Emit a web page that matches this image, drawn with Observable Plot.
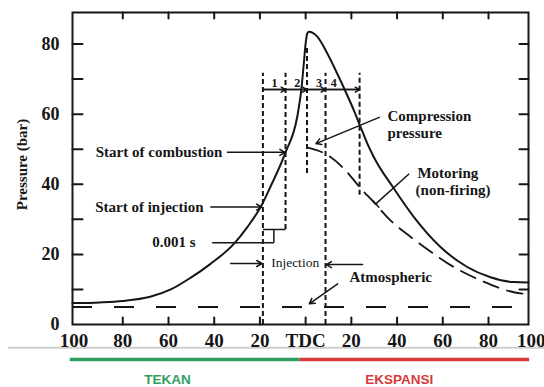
<!DOCTYPE html>
<html><head><meta charset="utf-8">
<script src="https://cdn.jsdelivr.net/npm/d3@7"></script>
<script src="https://cdn.jsdelivr.net/npm/@observablehq/plot@0.6"></script>
<style>body{margin:0;background:#fff}#chart svg{display:block}</style>
</head><body><div id="chart"></div>
<script>
// Firing (solid) cylinder pressure vs crank angle (deg, negative = before TDC)
const firingAngle    = [-102, -90, -80, -68, -59, -50.4, -41.6, -31.4, -25.5, -19.7, -15.4, -8.8, -3.7, -1.9, -0.8, 0, 0.7, 1.4, 5.1, 9.5, 13.8, 17.5, 21.1, 24, 27, 29.8, 38.6, 47.3, 59, 70.7, 80.9, 91.1, 97.5];
const firingPressure = [6.1, 6.3, 6.7, 7.9, 10.0, 13.3, 17.3, 23.0, 27.8, 33.5, 39.3, 49.1, 59.2, 66.9, 74.5, 80.2, 83.0, 83.5, 82.1, 77.3, 71.6, 66.4, 61.1, 56.4, 51.6, 47.8, 38.8, 30.7, 22.1, 16.4, 13.5, 12.1, 12.0];
// Motoring (dashed)
const motoringAngle    = [0.5, 9.6, 16.7, 24.0, 29.8, 37.1, 46.1, 54.9, 64.8, 76.5, 91.1, 97.5];
const motoringPressure = [50.5, 48.3, 44.5, 38.9, 34.9, 29.7, 24.9, 20.7, 16.4, 12.6, 9.2, 8.6];
// Atmospheric
const atmosphericPressure = 5;
const atmosphericRange = [-102, 92];
// Event lines (crank angle, from, to pressure)
const eventAngle = [-18.7, -8.8, 0.6, 8.7, 23.6];
const eventLow   = [0, 27.1, 43.1, 0, 36.9];
const eventHigh  = [71.7, 71.7, 79.1, 71.7, 71.7];
const phaseNumbers = ["1", "2", "3", "4"];
const phaseNumberAngle = [-13.6, -3.7, 5.8, 12.3];
const phaseNumberPressure = 68.8;
const phaseLinePressure = 67;
// Axis ticks
const xTickMarks = [-80, -60, -40, -20, 0, 20, 40, 60, 80];
const xTickLabels = [-80, -60, -40, -20, 0, 20, 40, 60, 80];
const xEdgeLabels = [-100, 100];
const yTickMarks = [10, 20, 30, 40, 50, 60, 70, 80];
const yTickLabels = [0, 20, 40, 60, 80];
// Annotations
const leftNotes = [
  {text: "Start of combustion", a: -36.4, p: 49.1},
  {text: "Start of injection", a: -44.7, p: 33.5},
  {text: "0.001 s", a: -48.2, p: 23.4}
];
const rightNotes = [
  {text: "Compression", a: 35.8, p: 59.4},
  {text: "pressure", a: 35.8, p: 54.6},
  {text: "Motoring", a: 48.9, p: 43.2},
  {text: "(non-firing)", a: 48.1, p: 38.4},
  {text: "Atmospheric", a: 19.2, p: 13.4}
];
const middleNotes = [{text: "Injection", a: -4.6, p: 17.5}];
const noteArrows = [
  {a1: -34.2, p1: 49.1, a2: -9.0, p2: 49.1},
  {a1: -41.5, p1: 33.5, a2: -19.2, p2: 33.5},
  {a1: -32.8, p1: 17.4, a2: -19.1, p2: 17.4},
  {a1: 24.9, p1: 17.1, a2: 9.0, p2: 17.1},
  {a1: 14.0, p1: 11.6, a2: 1.6, p2: 5.9},
  {a1: 32.2, p1: 59.1, a2: 4.5, p2: 51.6}
];
const noteLinks = [
  {a1: -40.9, p1: 23.3, a2: -13.9, p2: 23.3},
  {a1: -13.9, p1: 23.3, a2: -13.9, p2: 27.1},
  {a1: -18.7, p1: 27.1, a2: -8.8, p2: 27.1},
  {a1: 45.3, p1: 43.0, a2: 30.7, p2: 34.4}
];
// Stroke phases below the axis
const phaseLabels = ["TEKAN", "EKSPANSI"];
const phaseStart = [-103, -2.5];
const phaseEnd = [-2.5, 98];
const phaseLabelAngle = [-60.4, 41];
const phaseColors = ["#2f9e63", "#d63a3a"];

const firing = firingAngle.map((a, i) => ({a, p: firingPressure[i]}));
const motoring = motoringAngle.map((a, i) => ({a, p: motoringPressure[i]}));
const events = eventAngle.map((a, i) => ({a, lo: eventLow[i], hi: eventHigh[i]}));
const intervals = eventAngle.slice(0, -1).map((a, i) => ({a1: a, a2: eventAngle[i + 1]}));
const phases = phaseLabels.map((label, i) => ({label, from: phaseStart[i], to: phaseEnd[i], mid: phaseLabelAngle[i], color: phaseColors[i]}));

const ink = "#161616";
const serif = "Liberation Serif, Times New Roman, serif";
const lineShape = {draw(ctx, l) { ctx.moveTo(0, 0); ctx.lineTo(0, -l); }};
const fmt = d => d === 0 ? "TDC" : String(Math.abs(d));

const chart = Plot.plot({
  width: 544, height: 387,
  marginLeft: 72, marginRight: 16, marginTop: 12, marginBottom: 63,
  x: {domain: [-102, 97.5]},
  y: {domain: [0, 89]},
  style: {fontFamily: serif, background: "white", color: ink},
  marks: [
    // phase bars & separator
    Plot.ruleY([-6.6], {stroke: "#cfcfcf", strokeWidth: 2, insetLeft: -64, insetRight: -16}),
    Plot.ruleY(phases, {y: -10, x1: "from", x2: "to", stroke: "color", strokeWidth: 3.5}),
    Plot.text(phases, {x: "mid", y: -15.7, text: "label", fill: "color", fontFamily: "Liberation Sans, Arial, sans-serif", fontWeight: "bold", fontSize: 13.5}),
    // axes
    Plot.frame({stroke: ink, strokeWidth: 2}),
    Plot.vector(xTickMarks, {x: d => d, frameAnchor: "top", rotate: 180, length: 6, anchor: "start", shape: lineShape, stroke: ink, strokeWidth: 2}),
    Plot.vector(xTickMarks, {x: d => d, frameAnchor: "bottom", rotate: 0, length: 7, anchor: "start", shape: lineShape, stroke: ink, strokeWidth: 2}),
    Plot.vector(yTickMarks, {y: d => d, frameAnchor: "left", rotate: 90, length: 10, anchor: "start", shape: lineShape, stroke: ink, strokeWidth: 2}),
    Plot.vector(yTickMarks, {y: d => d, frameAnchor: "right", rotate: -90, length: 9, anchor: "start", shape: lineShape, stroke: ink, strokeWidth: 2}),
    Plot.axisX(xTickLabels, {tickSize: 0, tickPadding: 9, tickFormat: fmt, fontSize: 19, fontWeight: "bold", label: null}),
    Plot.axisX(xEdgeLabels, {tickSize: 0, tickPadding: 9, tickFormat: fmt, fontSize: 19, fontWeight: "bold", label: null, dx: -3}),
    Plot.axisY(yTickLabels, {tickSize: 0, tickPadding: 13, fontSize: 18, fontWeight: "bold", label: null}),
    Plot.text(["Pressure (bar)"], {frameAnchor: "left", textAnchor: "middle", dx: -50, dy: -4, rotate: -90, fontSize: 15, fontWeight: "bold", fill: ink}),
    // atmospheric
    Plot.ruleY([atmosphericPressure], {x1: atmosphericRange[0], x2: atmosphericRange[1], stroke: ink, strokeWidth: 2, strokeDasharray: "20,22"}),
    // event lines
    Plot.ruleX(events, {x: "a", y1: "lo", y2: "hi", stroke: ink, strokeWidth: 2, strokeDasharray: "5,3"}),
    Plot.ruleY([phaseLinePressure], {x1: eventAngle[0], x2: eventAngle[eventAngle.length - 1], stroke: ink, strokeWidth: 1.5}),
    Plot.arrow(intervals, {x1: "a1", x2: "a2", y1: phaseLinePressure, y2: phaseLinePressure, headLength: 5, stroke: ink, strokeWidth: 1.5}),
    Plot.text(phaseNumbers, {x: (d, i) => phaseNumberAngle[i], y: phaseNumberPressure, text: d => d, fontSize: 12, fontWeight: "bold", fill: ink}),
    // curves
    Plot.line(motoring, {x: "a", y: "p", curve: "monotone-x", stroke: ink, strokeWidth: 1.8, strokeDasharray: "16,9"}),
    Plot.line(firing, {x: "a", y: "p", curve: "monotone-x", stroke: ink, strokeWidth: 2}),
    // annotations
    Plot.arrow(noteArrows, {x1: "a1", y1: "p1", x2: "a2", y2: "p2", headLength: 6, stroke: ink, strokeWidth: 1.5}),
    Plot.link(noteLinks, {x1: "a1", y1: "p1", x2: "a2", y2: "p2", stroke: ink, strokeWidth: 1.5}),
    Plot.vector([noteLinks[3]], {x: "a2", y: "p2", rotate: 138, length: 9, anchor: "middle", shape: lineShape, stroke: ink, strokeWidth: 1.5}),
    Plot.text(leftNotes, {x: "a", y: "p", text: "text", textAnchor: "end", fontSize: 15, fontWeight: "bold", fill: ink}),
    Plot.text(rightNotes, {x: "a", y: "p", text: "text", textAnchor: "start", fontSize: 15, fontWeight: "bold", fill: ink}),
    Plot.text(middleNotes, {x: "a", y: "p", text: "text", fontSize: 13.5, fill: ink})
  ]
});
document.getElementById("chart").append(chart);
</script>
</body></html>
